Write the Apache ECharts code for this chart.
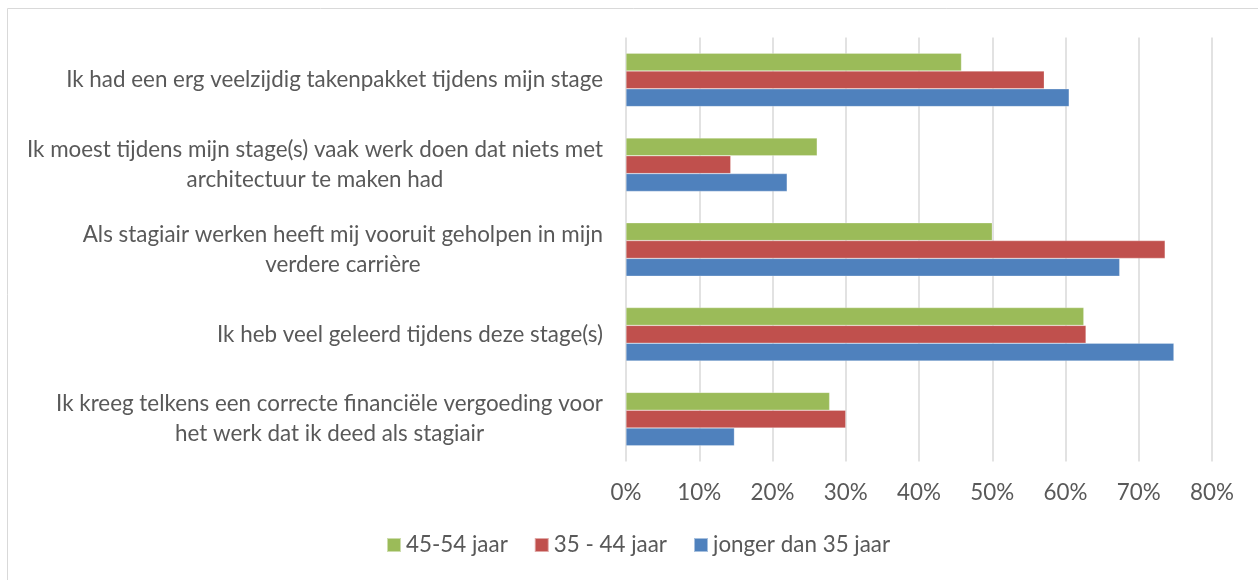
<!DOCTYPE html>
<html>
<head>
<meta charset="utf-8">
<title>Stage ervaringen</title>
<script src="https://cdn.jsdelivr.net/npm/echarts@6/dist/echarts.min.js"></script>
<style>
  html, body { margin: 0; padding: 0; background: #fff; }
  #chart { width: 1258px; height: 580px; }
</style>
</head>
<body>
<div id="chart"></div>
<script>
// categories top to bottom
var categories = [
    'Ik had een erg veelzijdig takenpakket tijdens mijn stage',
    'Ik moest tijdens mijn stage(s) vaak werk doen dat niets met\narchitectuur te maken had',
    'Als stagiair werken heeft mij vooruit geholpen in mijn\nverdere carrière',
    'Ik heb veel geleerd tijdens deze stage(s)',
    'Ik kreeg telkens een correcte financiële vergoeding voor\nhet werk dat ik deed als stagiair'
];
var seriesNames = ['45-54 jaar', '35 - 44 jaar', 'jonger dan 35 jaar'];
// values in %
var age4554 = [45.8, 26.1, 50.0, 62.5, 27.8];
var age3544 = [57.1, 14.3, 73.6, 62.8, 30.0];
var ageUnder35 = [60.5, 22.0, 67.4, 74.8, 14.8];
var xTicks = [0, 10, 20, 30, 40, 50, 60, 70, 80];

var colors = ['#9BBB59', '#C0504D', '#4F81BD'];
var textColor = '#595959';
var fontFamily = 'Lato, "Open Sans", sans-serif';
var fontSize = 22.4;

var chart = echarts.init(document.getElementById('chart'));

function makeSeries(name, data) {
    return {
        name: name,
        type: 'bar',
        data: data,
        barGap: '0%',
        barCategoryGap: '37%',
        itemStyle: { borderColor: 'rgba(255,255,255,0.5)', borderWidth: 0.5 }
    };
}

chart.setOption({
    animation: false,
    color: colors,
    textStyle: { fontFamily: fontFamily },
    graphic: [{
        type: 'rect',
        shape: { x: 7.5, y: 8.5, width: 1300, height: 620 },
        style: { fill: 'none', stroke: '#D9D9D9', lineWidth: 1 },
        silent: true
    }],
    grid: { left: 626, right: 46, top: 37.5, bottom: 118.5 },
    legend: {
        data: seriesNames,
        bottom: 19,
        left: 381,
        itemWidth: 14,
        itemHeight: 14,
        itemGap: 26,
        icon: 'rect',
        textStyle: { color: textColor, fontSize: fontSize, fontFamily: fontFamily }
    },
    xAxis: {
        type: 'value',
        min: xTicks[0],
        max: xTicks[xTicks.length - 1],
        interval: 10,
        axisLine: { show: false },
        axisTick: { show: false },
        splitLine: { show: true, lineStyle: { color: '#D9D9D9', width: 1.5 } },
        axisLabel: {
            color: textColor,
            fontSize: fontSize,
            margin: 20,
            formatter: function (v) { return v + '%'; }
        }
    },
    yAxis: {
        type: 'category',
        inverse: true,
        data: categories,
        axisLine: { show: false },
        axisTick: { show: false },
        axisLabel: {
            color: textColor,
            fontSize: fontSize,
            margin: 23,
            lineHeight: 30,
            formatter: function (v) {
                return v.split('\n').map(function (l) { return '{c|' + l + '}'; }).join('\n');
            },
            rich: {
                c: { align: 'center', color: textColor, fontSize: fontSize, lineHeight: 30, fontFamily: fontFamily }
            }
        }
    },
    series: [
        makeSeries(seriesNames[0], age4554),
        makeSeries(seriesNames[1], age3544),
        makeSeries(seriesNames[2], ageUnder35)
    ]
});
</script>
</body>
</html>
